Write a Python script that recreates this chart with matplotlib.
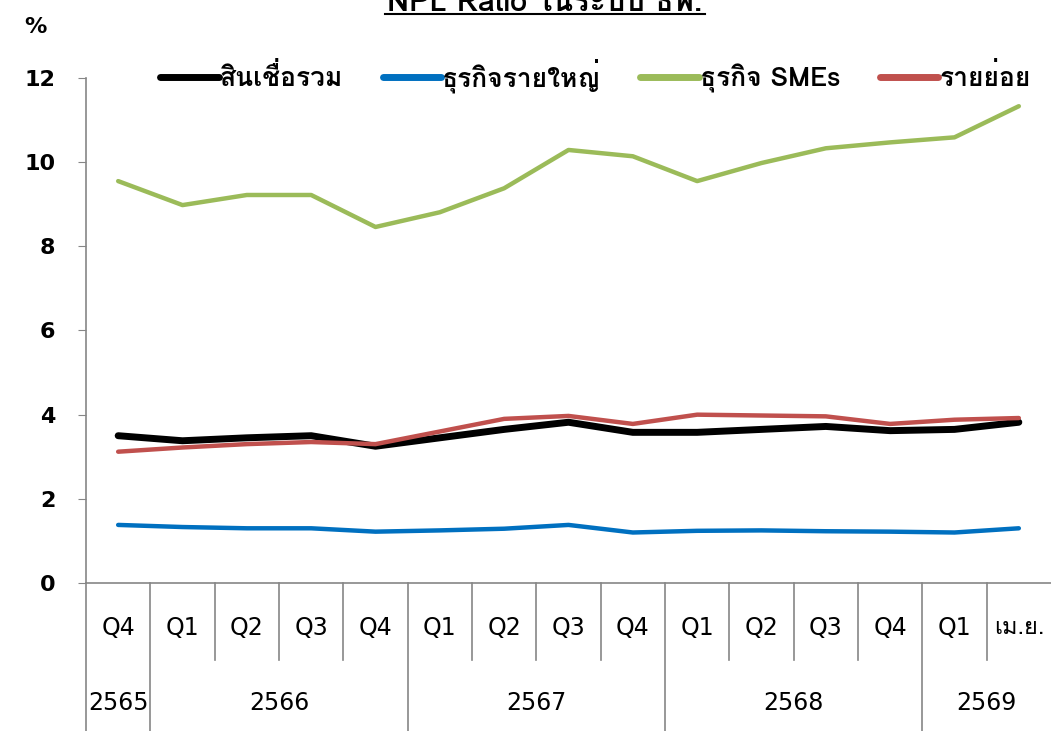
import matplotlib
matplotlib.use("Agg")
import matplotlib.pyplot as plt
from matplotlib.lines import Line2D

# ---------------------------------------------------------------------------
# Data (NPL ratio, %)
# ---------------------------------------------------------------------------
quarters = ["Q4", "Q1", "Q2", "Q3", "Q4", "Q1", "Q2", "Q3", "Q4",
            "Q1", "Q2", "Q3", "Q4", "Q1", "เม.ย."]
years       = ["2565", "2566", "2567", "2568", "2569"]
year_spans  = [(0, 0), (1, 4), (5, 8), (9, 12), (13, 14)]   # first/last index

total     = [3.50, 3.38, 3.45, 3.50, 3.25, 3.45, 3.65, 3.82, 3.58,
             3.58, 3.65, 3.72, 3.62, 3.65, 3.82]
large_biz = [1.38, 1.33, 1.30, 1.30, 1.22, 1.25, 1.29, 1.38, 1.20,
             1.24, 1.25, 1.23, 1.22, 1.20, 1.30]
sme       = [9.55, 8.98, 9.22, 9.22, 8.46, 8.81, 9.38, 10.29, 10.14,
             9.55, 9.98, 10.33, 10.47, 10.59, 11.33]
retail    = [3.12, 3.22, 3.30, 3.35, 3.30, 3.60, 3.90, 3.97, 3.78,
             4.00, 3.98, 3.96, 3.78, 3.88, 3.92]

series = [
    ("สินเชื่อรวม",   total,     "#000000", 5.0),
    ("ธุรกิจรายใหญ่", large_biz, "#0070C0", 3.2),
    ("ธุรกิจ SMEs",   sme,       "#9BBB59", 3.2),
    ("รายย่อย",       retail,    "#C0504D", 3.2),
]

FONTS = ["DejaVu Sans", "Loma", "Noto Sans Thai"]
THAI_FONTS = ["Loma", "DejaVu Sans"]
plt.rcParams["font.family"] = FONTS
AXIS_GREY = "#868686"

# ---------------------------------------------------------------------------
# Figure
# ---------------------------------------------------------------------------
fig = plt.figure(figsize=(10.51, 7.31), dpi=100)
ax = fig.add_axes([86 / 1051, 1 - 583 / 731, 1 - 86 / 1051, 505 / 731])

x = list(range(len(quarters)))
for name, vals, color, lw in series:
    ax.plot(x, vals, color=color, linewidth=lw, label=name,
            solid_capstyle="round", solid_joinstyle="round")

ax.set_xlim(-0.5, len(quarters) - 0.5)
ax.set_ylim(0, 12)
ax.set_yticks(range(0, 13, 2))
ax.tick_params(axis="y", direction="out", length=6, color=AXIS_GREY,
               labelsize=16, pad=16)
for lbl in ax.get_yticklabels():
    lbl.set_fontweight("bold")

for side in ("top", "right"):
    ax.spines[side].set_visible(False)
for side in ("left", "bottom"):
    ax.spines[side].set_color(AXIS_GREY)
    ax.spines[side].set_linewidth(1.2)

# ---- two-level category axis ---------------------------------------------
ax.set_xticks([])
trans = ax.get_xaxis_transform()
inner_bottom = -0.153
outer_bottom = -0.30
year_edges = [s[0] - 0.5 for s in year_spans]

for i, q in enumerate(quarters):
    ax.text(i, -0.089, q, transform=trans, ha="center", va="center",
            fontsize=17, family=THAI_FONTS if q == "เม.ย." else FONTS)
for i in range(len(quarters)):
    edge = i - 0.5
    bottom = outer_bottom if edge in year_edges else inner_bottom
    ax.plot([edge, edge], [0, bottom], transform=trans, color=AXIS_GREY,
            linewidth=1.2, clip_on=False)
for yr, (a, b) in zip(years, year_spans):
    ax.text((a + b) / 2, -0.238, yr, transform=trans, ha="center",
            va="center", fontsize=17)

# ---- legend ---------------------------------------------------------------
leg = ax.legend(loc="center", bbox_to_anchor=(0.528, 1.005), ncol=4,
                frameon=False, handlelength=2.2, handletextpad=0.05,
                columnspacing=1.5, prop={"family": THAI_FONTS, "size": 19,
                                         "weight": "bold"})
for h in leg.legend_handles:
    h.set_linewidth(5)

# ---- labels / title -------------------------------------------------------
fig.text(35 / 1051, 1 - 27 / 731, "%", ha="center", va="center",
         fontsize=16, fontweight="bold")
fig.text(545 / 1051, 1 - 11 / 731, "NPL Ratio ในระบบ ธพ.", ha="center",
         va="baseline", fontsize=22, fontweight="bold", family=THAI_FONTS)
fig.add_artist(Line2D([385 / 1051, 705 / 1051], [1 - 14 / 731, 1 - 14 / 731],
                      color="black", linewidth=1.5))

fig.savefig("out.png", dpi=100)
